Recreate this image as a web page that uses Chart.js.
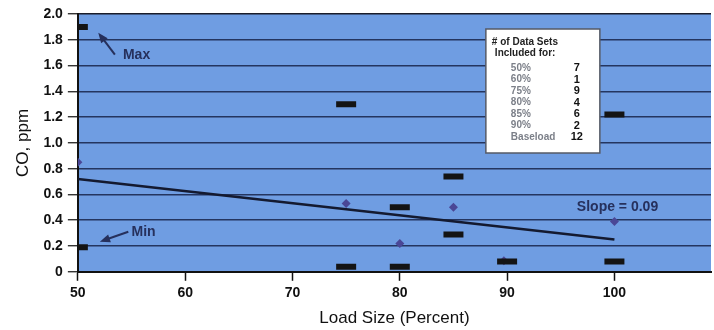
<!DOCTYPE html>
<html>
<head>
<meta charset="utf-8">
<script src="https://cdn.jsdelivr.net/npm/chart.js@4.4.1/dist/chart.umd.min.js"></script>
<style>
  html, body { margin: 0; padding: 0; background: #fff; }
  #wrap { width: 714px; height: 330px; }
</style>
</head>
<body>
<div id="wrap"><canvas id="coChart" width="714" height="330"></canvas></div>
<script>
// axis ticks
const xTicks = [50, 60, 70, 80, 90, 100];
const yTicks = [0, 0.2, 0.4, 0.6, 0.8, 1.0, 1.2, 1.4, 1.6, 1.8, 2.0];
const yTickLabels = ['0', '0.2', '0.4', '0.6', '0.8', '1.0', '1.2', '1.4', '1.6', '1.8', '2.0'];

// black dashes (max / min of the data sets at each load)
const rangeLoads = [50, 50, 75, 75, 80, 80, 85, 85, 90, 100, 100];
const rangeCO = [1.90, 0.19, 1.30, 0.04, 0.50, 0.04, 0.74, 0.29, 0.08, 1.22, 0.08];

// diamonds (averages)
const meanLoads = [50, 75, 80, 85, 89.7, 100];
const meanCO = [0.85, 0.53, 0.22, 0.50, 0.085, 0.39];

// fitted line
const trendLoads = [50, 100];
const trendCO = [0.72, 0.25];

// inset box
const boxTitle = ['# of Data Sets', 'Included for:'];
const boxLabels = ['50%', '60%', '75%', '80%', '85%', '90%', 'Baseload'];
const boxCounts = [7, 1, 9, 4, 6, 2, 12];

const FONT = '"Liberation Sans", Arial, Helvetica, sans-serif';

const toPoints = (xs, ys) => xs.map((x, i) => ({ x, y: ys[i] }));

// callouts placed in data units
const notes = [
  { text: 'Max', x: 54.2, y: 1.68, from: [53.45, 1.685], to: [51.9, 1.855] },
  { text: 'Min', x: 55.0, y: 0.31, from: [54.7, 0.311], to: [52.05, 0.233] },
  { text: 'Slope = 0.09', x: 96.5, y: 0.50 },
];

const plotBackground = {
  id: 'plotBackground',
  beforeDraw(chart) {
    const { ctx, chartArea: a } = chart;
    ctx.save();
    ctx.fillStyle = '#6f9de2';
    ctx.fillRect(a.left, a.top, a.right - a.left, a.bottom - a.top);
    ctx.restore();
  },
};

function drawArrow(ctx, x1, y1, x2, y2) {
  const ang = Math.atan2(y2 - y1, x2 - x1);
  const head = 11;
  ctx.beginPath();
  ctx.moveTo(x1, y1);
  ctx.lineTo(x2 - Math.cos(ang) * head * 0.6, y2 - Math.sin(ang) * head * 0.6);
  ctx.stroke();
  ctx.beginPath();
  ctx.moveTo(x2, y2);
  ctx.lineTo(x2 - head * Math.cos(ang - 0.38), y2 - head * Math.sin(ang - 0.38));
  ctx.lineTo(x2 - head * Math.cos(ang + 0.38), y2 - head * Math.sin(ang + 0.38));
  ctx.closePath();
  ctx.fill();
}

const callouts = {
  id: 'callouts',
  afterDatasetsDraw(chart) {
    const { ctx, scales: { x, y } } = chart;
    ctx.save();
    ctx.fillStyle = '#26305c';
    ctx.strokeStyle = '#26305c';
    ctx.lineWidth = 2;
    ctx.font = 'bold 14px ' + FONT;
    ctx.textBaseline = 'middle';
    ctx.textAlign = 'left';
    notes.forEach((n) => {
      if (n.from) {
        drawArrow(ctx, x.getPixelForValue(n.from[0]), y.getPixelForValue(n.from[1]),
          x.getPixelForValue(n.to[0]), y.getPixelForValue(n.to[1]));
      }
      ctx.fillText(n.text, x.getPixelForValue(n.x), y.getPixelForValue(n.y));
    });
    ctx.restore();
  },
};

const insetBox = {
  id: 'insetBox',
  afterDraw(chart) {
    const { ctx, chartArea: a } = chart;
    const left = a.left + 408;
    const top = a.top + 15;
    ctx.save();
    ctx.fillStyle = '#ffffff';
    ctx.fillRect(left, top, 114, 124);
    ctx.strokeStyle = '#555a66';
    ctx.lineWidth = 1.5;
    ctx.strokeRect(left, top, 114, 124);

    ctx.textBaseline = 'middle';
    ctx.fillStyle = '#222';
    ctx.font = 'bold 10px ' + FONT;
    ctx.fillText(boxTitle[0], left + 6, top + 13);
    ctx.fillText(boxTitle[1], left + 9, top + 24);

    boxLabels.forEach((label, i) => {
      const ty = top + 39 + i * 11.5;
      ctx.textAlign = 'left';
      ctx.fillStyle = '#7b7f88';
      ctx.font = 'bold 10px ' + FONT;
      ctx.fillText(label, left + 25, ty);
      ctx.textAlign = 'center';
      ctx.fillStyle = '#111';
      ctx.font = 'bold 11px ' + FONT;
      ctx.fillText(String(boxCounts[i]), left + 91, ty);
    });
    ctx.restore();
  },
};

function initChart() {
  const ctx = document.getElementById('coChart');
  if (!ctx || typeof Chart === 'undefined') return;
  return new Chart(ctx, {
    type: 'scatter',
    data: {
      datasets: [
        {
          label: 'Range',
          data: toPoints(rangeLoads, rangeCO),
          pointStyle: 'line',
          pointRadius: 10,
          pointHoverRadius: 10,
          borderWidth: 6,
          borderColor: '#141414',
          backgroundColor: '#141414',
          clip: 0,
        },
        {
          label: 'Average',
          data: toPoints(meanLoads, meanCO),
          pointStyle: 'rectRot',
          pointRadius: 4.5,
          borderWidth: 0,
          backgroundColor: '#4a4796',
          borderColor: '#4a4796',
          clip: 0,
        },
        {
          label: 'Trend',
          type: 'line',
          data: toPoints(trendLoads, trendCO),
          showLine: true,
          pointRadius: 0,
          borderColor: '#141a30',
          borderWidth: 2.5,
          fill: false,
        },
      ],
    },
    options: {
      responsive: false,
      animation: false,
      layout: { autoPadding: false, padding: { top: 14, right: 3, left: 13, bottom: 0 } },
      plugins: {
        legend: { display: false },
        tooltip: { enabled: false },
      },
      scales: {
        x: {
          type: 'linear',
          min: 50,
          max: 109,
          afterBuildTicks: (scale) => { scale.ticks = xTicks.map((v) => ({ value: v })); },
          afterFit: (scale) => { scale.paddingRight = 0; scale.paddingLeft = 0; },
          grid: { drawOnChartArea: false, tickColor: '#111', tickLength: 9, tickWidth: 1.5 },
          border: { color: '#111', width: 2 },
          ticks: {
            color: '#111',
            padding: 4,
            maxRotation: 0,
            font: { family: FONT, size: 14, weight: 'bold' },
          },
          title: {
            display: true,
            text: 'Load Size (Percent)',
            color: '#111',
            padding: { top: 3, bottom: 1 },
            font: { family: FONT, size: 17 },
          },
        },
        y: {
          min: 0,
          max: 2,
          afterBuildTicks: (scale) => { scale.ticks = yTicks.map((v) => ({ value: v })); },
          grid: {
            color: (c) => (c.index === yTicks.length - 1 ? '#1a1d2a' : '#24355f'),
            lineWidth: 1.5,
            tickColor: '#111',
            tickLength: 10,
            tickWidth: 1.2,
          },
          border: { color: '#111', width: 2 },
          ticks: {
            color: '#111',
            padding: 5,
            font: { family: FONT, size: 14, weight: 'bold' },
            callback: (value, index) => yTickLabels[index],
          },
          title: {
            display: true,
            text: 'CO, ppm',
            color: '#111',
            padding: { top: 0, bottom: 5 },
            font: { family: FONT, size: 17 },
          },
        },
      },
    },
    plugins: [plotBackground, callouts, insetBox],
  });
}

document.addEventListener('DOMContentLoaded', () => {
  initChart();
});
</script>
</body>
</html>
